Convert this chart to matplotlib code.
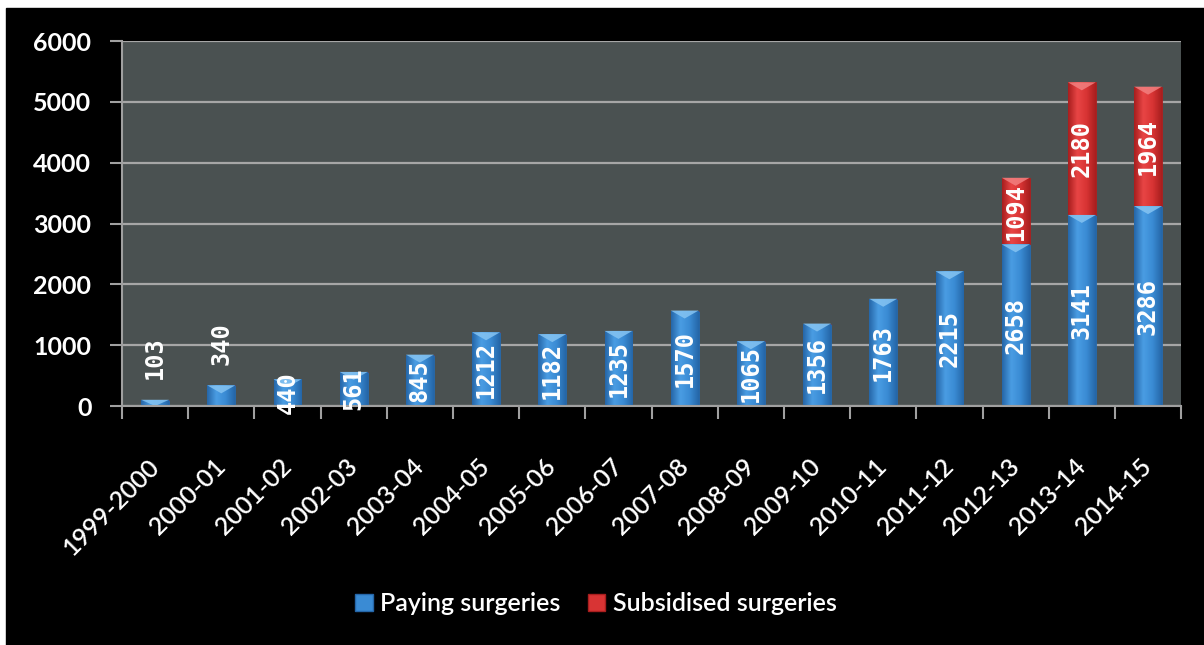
import numpy as np
import matplotlib
matplotlib.use("Agg")
import matplotlib.pyplot as plt
from matplotlib.patches import Rectangle, Polygon, Patch
from matplotlib.colors import LinearSegmentedColormap

# surgeries per financial year
years = ['1999-2000', '2000-01', '2001-02', '2002-03', '2003-04', '2004-05',
         '2005-06', '2006-07', '2007-08', '2008-09', '2009-10', '2010-11',
         '2011-12', '2012-13', '2013-14', '2014-15']
paying = [103, 340, 440, 561, 845, 1212, 1182, 1235, 1570, 1065, 1356,
          1763, 2215, 2658, 3141, 3286]
subsidised = [0, 0, 0, 0, 0, 0, 0, 0, 0, 0, 0, 0, 0, 1094, 2180, 1964]
yticks = [0, 1000, 2000, 3000, 4000, 5000, 6000]

blue = dict(base='#3a8bd4', edge='#2566a8', mid='#4a9de3', tip='#86c4f2')
red = dict(base='#d83434', edge='#a81e1e', mid='#e84545', tip='#f28080')

fig = plt.figure(figsize=(12.04, 6.45), dpi=100, facecolor='white')
fig.patches.append(Rectangle((6 / 1204, 0), 1, 1 - 8 / 645, color='black',
                             transform=fig.transFigure, zorder=-10))

ax = fig.add_axes([0.1013, 0.3705, 0.8797, 0.5659])
ax.set_facecolor('#4a5151')
ax.set_xlim(-0.5, len(years) - 0.5)
ax.set_ylim(0, 6000)

ax.yaxis.grid(True, color='#a6a6a6', lw=1.6)
ax.set_axisbelow(True)
for s in ['top', 'right']:
    ax.spines[s].set_visible(False)
for s in ['left', 'bottom']:
    ax.spines[s].set_color('#a0a0a0')
    ax.spines[s].set_linewidth(1.5)

x = np.arange(len(years))
width = 0.42
ax_h_px = 0.5659 * 645
tip_h = 8 / ax_h_px * 6000


def shaded_bars(bottoms, heights, c):
    cmap = LinearSegmentedColormap.from_list('b', [c['edge'], c['mid'], c['base'], c['edge']])
    grad = np.linspace(0, 1, 64).reshape(1, -1)
    bars = ax.bar(x, heights, width, bottom=bottoms, color=c['base'],
                  edgecolor=c['edge'], lw=0.6, zorder=2)
    for b in bars:
        h = b.get_height()
        if h <= 0:
            continue
        x0, y0 = b.get_x(), b.get_y()
        x1 = x0 + b.get_width()
        im = ax.imshow(grad, cmap=cmap, extent=[x0, x1, y0, y0 + h],
                       aspect='auto', zorder=2.1, interpolation='bicubic')
        im.set_clip_path(b)
        th = min(tip_h, h)
        ax.add_patch(Polygon([(x0, y0 + h), (x1, y0 + h),
                              ((x0 + x1) / 2, y0 + h - th)],
                             closed=True, color=c['tip'], alpha=0.85, lw=0,
                             zorder=2.2))
    return bars


shaded_bars([0] * len(x), paying, blue)
shaded_bars(paying, subsidised, red)

lab_kw = dict(rotation=90, color='white', fontsize=17, fontweight='bold',
              family='DejaVu Sans Mono', zorder=5)
for i, v in enumerate(paying):
    if v < 400:
        ax.annotate(str(v), (x[i], v), xytext=(0, 15), textcoords='offset points',
                    ha='center', va='bottom', **lab_kw)
    else:
        ax.text(x[i], v / 2, str(v), ha='center', va='center', **lab_kw)
for i, v in enumerate(subsidised):
    if v > 0:
        ax.text(x[i], paying[i] + v / 2, str(v), ha='center', va='center', **lab_kw)

ax.set_yticks(yticks)
ax.set_yticklabels([str(t) for t in yticks])
ax.tick_params(axis='y', length=9, width=1.5, color='#a0a0a0', pad=13,
               labelcolor='white', labelsize=18)
for t in ax.get_yticklabels():
    t.set_fontfamily('Lato')
    t.set_fontweight('bold')

ax.set_xticks(x)
ax.set_xticklabels(years, rotation=45, ha='right', va='center',
                   rotation_mode='anchor', family='Lato', fontsize=18,
                   fontweight='semibold', color='white')
ax.set_xticks(np.arange(-0.5, len(years)), minor=True)
ax.tick_params(axis='x', which='major', length=0, pad=41)
ax.tick_params(axis='x', which='minor', length=9, width=1.5, color='#a0a0a0')

handles = [Patch(facecolor=blue['base'], edgecolor=blue['edge'], label='Paying surgeries'),
           Patch(facecolor=red['base'], edgecolor=red['edge'], label='Subsidised surgeries')]
leg = fig.legend(handles=handles, loc='center', bbox_to_anchor=(0.495, 0.064),
                 ncol=2, frameon=False, handlelength=0.7, handleheight=0.7,
                 handletextpad=0.3, columnspacing=1.1,
                 prop={'family': 'Lato', 'size': 18, 'weight': 'semibold'})
for t in leg.get_texts():
    t.set_color('white')

fig.savefig('out.png', dpi=100, facecolor=fig.get_facecolor())
